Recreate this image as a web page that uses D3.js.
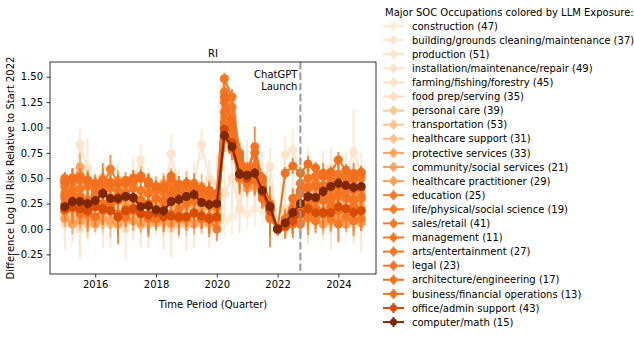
<!DOCTYPE html>
<html>
<head>
<meta charset="utf-8">
<script src="https://cdn.jsdelivr.net/npm/d3@7"></script>
<style>
  body { margin: 0; background: #fff; }
  text { font-family: "DejaVu Sans", sans-serif; }
</style>
</head>
<body>
<div id="chart"></div>
<script>
// quarters 2015Q1 .. 2024Q4
var quarters = ["2015Q1","2015Q2","2015Q3","2015Q4","2016Q1","2016Q2","2016Q3","2016Q4",
  "2017Q1","2017Q2","2017Q3","2017Q4","2018Q1","2018Q2","2018Q3","2018Q4",
  "2019Q1","2019Q2","2019Q3","2019Q4","2020Q1","2020Q2","2020Q3","2020Q4",
  "2021Q1","2021Q2","2021Q3","2021Q4","2022Q1","2022Q2","2022Q3","2022Q4",
  "2023Q1","2023Q2","2023Q3","2023Q4","2024Q1","2024Q2","2024Q3","2024Q4"];

var occupations = ["construction (47)", "building/grounds cleaning/maintenance (37)", "production (51)",
  "installation/maintenance/repair (49)", "farming/fishing/forestry (45)", "food prep/serving (35)",
  "personal care (39)", "transportation (53)", "healthcare support (31)", "protective services (33)",
  "community/social services (21)", "healthcare practitioner (29)", "education (25)",
  "life/physical/social science (19)", "sales/retail (41)", "management (11)", "arts/entertainment (27)",
  "legal (23)", "architecture/engineering (17)", "business/financial operations (13)",
  "office/admin support (43)", "computer/math (15)"];

// LLM exposure, rescaled for the colour map
var exposure = [0.08, 0.13, 0.14, 0.15, 0.15, 0.16, 0.28, 0.29, 0.3, 0.41, 0.42, 0.43,
  0.56, 0.57, 0.57, 0.58, 0.58, 0.59, 0.59, 0.6, 0.74, 1.0];

var construction = [0.10,0.08,0.05,0.12,0.10,0.07,0.15,0.05,0.10,0.08,0.03,0.06,0.12,0.05,0.08,0.10,0.03,0.07,0.05,0.10,0.35,0.07,0.12,0.18,0.15,0.20,0.18,0.15,0,0.05,0.10,0.08,0.03,0.10,0.05,0.08,0.12,0.06,0.05,0.07];
var constructionErr = [0.15,0.12,0.30,0.18,0.12,0.15,0.20,0.14,0.12,0.15,0.18,0.12,0.14,0.16,0.22,0.15,0.18,0.14,0.12,0.15,0.20,0.15,0.18,0.16,0.14,0.18,0.15,0.16,0.05,0.14,0.16,0.15,0.18,0.14,0.16,0.15,0.18,0.14,0.15,0.16];
var building = [0.20,0.25,0.83,0.60,0.35,0.30,0.45,0.40,0.30,0.50,0.68,0.40,0.35,0.30,0.74,0.40,0.30,0.45,0.83,0.50,0.30,0.95,0.85,0.55,0.45,0.50,0.45,0.62,0,0.73,0.78,0.55,0.60,0.45,0.55,0.60,0.50,0.55,0.76,0.55];
var buildingErr = [0.20,0.18,0.15,0.30,0.22,0.18,0.20,0.25,0.18,0.22,0.15,0.20,0.18,0.22,0.20,0.18,0.22,0.20,0.15,0.18,0.20,0.15,0.18,0.20,0.22,0.18,0.20,0.18,0.08,0.18,0.20,0.22,0.20,0.18,0.22,0.20,0.18,0.20,0.42,0.20];
var production = [0.30,0.25,0.35,0.30,0.28,0.32,0.25,0.30,0.35,0.28,0.30,0.25,0.32,0.30,0.28,0.35,0.30,0.32,0.28,0.30,0.25,1.20,1.05,0.65,0.50,0.55,0.40,0.20,0,0.10,0.18,0.25,0.30,0.28,0.35,0.30,0.32,0.35,0.30,0.33];
var productionErr = [0.10,0.12,0.10,0.14,0.10,0.12,0.10,0.12,0.10,0.12,0.14,0.10,0.12,0.10,0.12,0.10,0.12,0.10,0.14,0.10,0.12,0.12,0.14,0.10,0.12,0.10,0.12,0.10,0.06,0.10,0.12,0.10,0.12,0.10,0.14,0.12,0.10,0.12,0.10,0.12];
var installation = [0.18,0.15,0.20,0.12,0.15,0.18,0.10,0.15,0.20,0.12,0.15,0.18,0.10,0.14,0.16,0.12,0.18,0.15,0.12,0.15,0.15,0.85,0.75,0.48,0.42,0.45,0.35,0.18,0,0.05,0.12,0.15,0.20,0.18,0.15,0.20,0.22,0.18,0.20,0.18];
var installationErr = [0.12,0.14,0.12,0.16,0.12,0.14,0.16,0.12,0.14,0.12,0.16,0.14,0.12,0.14,0.12,0.16,0.12,0.14,0.12,0.14,0.12,0.14,0.12,0.14,0.12,0.14,0.12,0.14,0.06,0.12,0.14,0.12,0.14,0.12,0.14,0.12,0.14,0.12,0.14,0.12];
var farming = [0.05,0.15,0.00,0.10,0.20,0.05,0.10,0.25,0.00,0.15,0.10,0.05,0.20,0.10,0.00,0.15,0.05,0.10,0.20,0.05,0.45,0.35,0.50,0.20,0.60,0.40,0.50,0.30,0,0.20,0.30,0.15,0.10,0.25,0.20,0.05,0.15,0.25,0.10,0.05];
var farmingErr = [0.25,0.28,0.30,0.22,0.26,0.24,0.28,0.22,0.30,0.25,0.28,0.24,0.26,0.30,0.28,0.24,0.26,0.28,0.25,0.24,0.28,0.26,0.30,0.25,0.28,0.24,0.26,0.30,0.10,0.26,0.28,0.30,0.24,0.26,0.28,0.25,0.28,0.26,0.24,0.28];
var foodPrep = [0.25,0.20,0.22,0.18,0.25,0.20,0.22,0.18,0.20,0.25,0.18,0.22,0.20,0.18,0.22,0.25,0.20,0.18,0.22,0.20,0.20,1.40,1.25,0.75,0.60,0.65,0.45,0.25,0,0.08,0.15,0.22,0.25,0.28,0.25,0.30,0.28,0.30,0.25,0.28];
var foodPrepErr = [0.10,0.12,0.10,0.12,0.10,0.12,0.10,0.12,0.10,0.12,0.10,0.12,0.10,0.12,0.10,0.12,0.10,0.12,0.10,0.12,0.10,0.10,0.12,0.10,0.12,0.10,0.12,0.10,0.05,0.10,0.12,0.10,0.12,0.10,0.12,0.10,0.12,0.10,0.12,0.10];
var personalCare = [0.12,0.08,0.10,0.05,0.12,0.08,0.10,0.05,0.08,0.12,0.05,0.08,0.10,0.06,0.08,0.05,0.10,0.08,0.06,0.08,0.10,1.30,1.15,0.70,0.55,0.60,0.40,0.20,0,0.05,0.10,0.12,0.15,0.10,0.12,0.15,0.10,0.12,0.08,0.10];
var personalCareErr = [0.10,0.12,0.10,0.14,0.10,0.12,0.10,0.14,0.10,0.12,0.10,0.14,0.10,0.12,0.10,0.14,0.10,0.12,0.10,0.14,0.10,0.12,0.10,0.14,0.10,0.12,0.10,0.12,0.06,0.10,0.12,0.10,0.14,0.10,0.12,0.10,0.14,0.10,0.12,0.10];
var transportation = [0.40,0.35,0.38,0.30,0.35,0.40,0.32,0.35,0.38,0.30,0.35,0.40,0.33,0.35,0.30,0.38,0.35,0.32,0.36,0.30,0.30,1.05,0.90,0.60,0.50,0.52,0.38,0.18,0,0.08,0.15,0.20,0.25,0.22,0.28,0.25,0.30,0.28,0.25,0.30];
var transportationErr = [0.08,0.10,0.08,0.10,0.08,0.10,0.08,0.10,0.08,0.10,0.08,0.10,0.08,0.10,0.08,0.10,0.08,0.10,0.08,0.10,0.08,0.10,0.08,0.10,0.08,0.10,0.08,0.10,0.05,0.08,0.10,0.08,0.10,0.08,0.10,0.08,0.10,0.08,0.10,0.08];
var healthSupport = [0.15,0.10,0.12,0.08,0.15,0.10,0.05,0.12,0.10,0.08,0.12,0.05,0.10,0.08,0.12,0.10,0.05,0.08,0.10,0.05,0.05,1.15,1.00,0.62,0.48,0.50,0.35,0.15,0,0.03,0.08,0.10,0.15,0.12,0.08,0.10,0.15,0.12,0.10,0.12];
var healthSupportErr = [0.12,0.10,0.14,0.10,0.12,0.10,0.14,0.10,0.12,0.10,0.14,0.10,0.12,0.10,0.14,0.10,0.12,0.10,0.14,0.10,0.12,0.10,0.14,0.10,0.12,0.10,0.14,0.10,0.06,0.12,0.10,0.14,0.10,0.12,0.10,0.14,0.10,0.12,0.10,0.12];
var protective = [0.45,0.48,0.61,0.45,0.42,0.50,0.45,0.48,0.40,0.45,0.50,0.42,0.40,0.45,0.48,0.42,0.45,0.40,0.42,0.38,0.20,1.10,0.95,0.60,0.48,0.55,0.40,0.20,0,0.05,0.15,0.25,0.30,0.35,0.32,0.38,0.40,0.35,0.38,0.35];
var protectiveErr = [0.10,0.12,0.14,0.10,0.12,0.10,0.12,0.10,0.12,0.10,0.12,0.10,0.12,0.10,0.12,0.10,0.12,0.10,0.12,0.10,0.12,0.10,0.12,0.10,0.12,0.10,0.12,0.10,0.05,0.10,0.12,0.10,0.12,0.10,0.12,0.10,0.12,0.10,0.12,0.10];
var community = [0.30,0.25,0.28,0.22,0.30,0.25,0.20,0.28,0.25,0.22,0.30,0.25,0.22,0.20,0.25,0.28,0.22,0.25,0.20,0.22,0.15,1.00,0.85,0.55,0.45,0.48,0.32,0.12,0,0.04,0.10,0.18,0.20,0.22,0.18,0.25,0.22,0.20,0.25,0.22];
var communityErr = [0.12,0.14,0.12,0.16,0.12,0.14,0.12,0.16,0.12,0.14,0.12,0.16,0.12,0.14,0.12,0.16,0.12,0.14,0.12,0.16,0.12,0.14,0.12,0.16,0.12,0.14,0.12,0.16,0.06,0.12,0.14,0.12,0.16,0.12,0.14,0.12,0.16,0.12,0.14,0.12];
var healthPract = [0.10,0.05,0.08,0.12,0.05,0.10,0.08,0.05,0.10,0.08,0.05,0.10,0.06,0.08,0.05,0.10,0.08,0.05,0.10,0.06,0.08,0.95,0.80,0.50,0.40,0.42,0.30,0.12,0,0.02,0.05,0.08,0.10,0.08,0.05,0.08,0.10,0.05,0.08,0.06];
var healthPractErr = [0.08,0.10,0.08,0.10,0.08,0.10,0.08,0.10,0.08,0.10,0.08,0.10,0.08,0.10,0.08,0.10,0.08,0.10,0.08,0.10,0.08,0.10,0.08,0.10,0.08,0.10,0.08,0.10,0.05,0.08,0.10,0.08,0.10,0.08,0.10,0.08,0.10,0.08,0.10,0.08];
var education = [0.50,0.45,0.48,0.47,0.44,0.42,0.59,0.45,0.45,0.50,0.52,0.47,0.42,0.38,0.48,0.40,0.45,0.40,0.35,0.32,0.30,1.35,1.20,0.72,0.58,0.62,0.45,0.22,0,0.06,0.15,0.35,0.42,0.45,0.43,0.48,0.52,0.50,0.48,0.50];
var educationErr = [0.06,0.08,0.06,0.08,0.06,0.08,0.14,0.08,0.06,0.08,0.06,0.08,0.06,0.08,0.06,0.08,0.06,0.08,0.06,0.08,0.06,0.08,0.06,0.08,0.06,0.08,0.06,0.08,0.04,0.06,0.08,0.06,0.08,0.06,0.08,0.06,0.08,0.06,0.08,0.06];
var lifeScience = [0.25,0.20,0.18,0.15,0.22,0.20,0.25,0.12,0.20,0.18,0.15,0.10,0.18,0.12,0.15,0.20,0.10,0.15,0.12,0.10,0.00,1.00,0.88,0.55,0.52,0.60,0.35,0.10,0,0.02,0.10,0.05,0.12,0.08,0.15,0.10,0.05,0.12,0.08,0.10];
var lifeScienceErr = [0.12,0.15,0.12,0.18,0.12,0.15,0.12,0.18,0.12,0.15,0.12,0.18,0.12,0.15,0.12,0.18,0.12,0.15,0.12,0.18,0.12,0.15,0.12,0.18,0.12,0.15,0.12,0.18,0.06,0.12,0.15,0.12,0.18,0.12,0.15,0.12,0.18,0.12,0.15,0.12];
var sales = [0.42,0.38,0.40,0.42,0.38,0.35,0.40,0.38,0.35,0.40,0.38,0.35,0.38,0.36,0.40,0.35,0.38,0.35,0.32,0.30,0.28,1.25,1.10,0.68,0.55,0.60,0.42,0.20,0,0.05,0.12,0.20,0.25,0.28,0.30,0.28,0.32,0.30,0.28,0.30];
var salesErr = [0.05,0.06,0.05,0.06,0.05,0.06,0.05,0.06,0.05,0.06,0.05,0.06,0.05,0.06,0.05,0.06,0.05,0.06,0.05,0.06,0.05,0.06,0.05,0.06,0.05,0.06,0.05,0.06,0.03,0.05,0.06,0.05,0.06,0.05,0.06,0.05,0.06,0.05,0.06,0.05];
var management = [0.35,0.30,0.32,0.28,0.30,0.25,0.30,0.28,0.32,0.30,0.28,0.25,0.30,0.26,0.28,0.30,0.25,0.28,0.30,0.25,0.22,1.05,0.92,0.60,0.50,0.55,0.38,0.18,0,0.04,0.12,0.22,0.28,0.30,0.28,0.32,0.35,0.33,0.30,0.32];
var managementErr = [0.06,0.08,0.06,0.08,0.06,0.08,0.06,0.08,0.06,0.08,0.06,0.08,0.06,0.08,0.06,0.08,0.06,0.08,0.06,0.08,0.06,0.08,0.06,0.08,0.06,0.08,0.06,0.08,0.04,0.06,0.08,0.06,0.08,0.06,0.08,0.06,0.08,0.06,0.08,0.06];
var arts = [0.48,0.50,0.52,0.48,0.45,0.44,0.46,0.45,0.48,0.45,0.50,0.44,0.40,0.42,0.45,0.38,0.42,0.45,0.38,0.35,0.30,1.48,1.30,0.75,0.55,0.81,0.48,0.22,0,0.08,0.20,0.45,0.50,0.52,0.55,0.50,0.54,0.52,0.55,0.54];
var artsErr = [0.08,0.10,0.08,0.10,0.08,0.10,0.08,0.10,0.08,0.10,0.08,0.10,0.08,0.10,0.08,0.10,0.08,0.10,0.08,0.10,0.08,0.06,0.08,0.10,0.08,0.20,0.08,0.10,0.04,0.08,0.10,0.08,0.10,0.08,0.10,0.08,0.10,0.08,0.10,0.08];
var legal = [0.18,0.22,0.15,0.20,0.12,0.18,0.22,0.15,0.12,0.18,0.15,0.12,0.10,0.15,0.12,0.10,0.12,0.15,0.10,0.12,0.10,0.90,0.78,0.50,0.45,0.48,0.30,0.12,0,0.10,0.05,0.15,0.18,0.20,0.15,0.22,0.18,0.20,0.22,0.18];
var legalErr = [0.10,0.14,0.10,0.16,0.10,0.14,0.10,0.30,0.10,0.14,0.10,0.16,0.10,0.14,0.10,0.16,0.10,0.14,0.10,0.16,0.10,0.14,0.10,0.16,0.10,0.14,0.10,0.30,0.06,0.10,0.14,0.10,0.16,0.10,0.14,0.10,0.16,0.10,0.14,0.10];
var architecture = [0.32,0.35,0.30,0.28,0.35,0.40,0.30,0.32,0.35,0.30,0.28,0.25,0.30,0.28,0.35,0.30,0.28,0.32,0.30,0.25,0.25,1.15,1.00,0.65,0.55,0.60,0.40,0.20,0,0.08,0.30,0.38,0.40,0.42,0.38,0.40,0.42,0.40,0.38,0.40];
var architectureErr = [0.08,0.10,0.08,0.10,0.08,0.25,0.08,0.10,0.08,0.10,0.08,0.10,0.08,0.10,0.08,0.10,0.08,0.10,0.08,0.10,0.08,0.10,0.08,0.10,0.08,0.10,0.08,0.10,0.05,0.08,0.10,0.08,0.10,0.08,0.10,0.08,0.10,0.08,0.10,0.08];
var business = [0.46,0.50,0.50,0.48,0.45,0.48,0.45,0.45,0.46,0.50,0.52,0.46,0.42,0.40,0.52,0.44,0.45,0.42,0.40,0.38,0.35,1.30,1.05,0.72,0.60,0.75,0.50,0.25,0,0.55,0.62,0.55,0.64,0.60,0.52,0.56,0.68,0.58,0.50,0.56];
var businessErr = [0.06,0.08,0.06,0.08,0.06,0.08,0.06,0.08,0.06,0.08,0.06,0.08,0.06,0.08,0.06,0.08,0.06,0.08,0.06,0.08,0.06,0.08,0.06,0.08,0.06,0.08,0.06,0.08,0.04,0.06,0.08,0.06,0.08,0.06,0.08,0.06,0.08,0.06,0.08,0.06];
var officeAdmin = [0.20,0.22,0.20,0.18,0.22,0.20,0.18,0.12,0.18,0.20,0.15,0.14,0.16,0.12,0.13,0.12,0.12,0.16,0.13,0.10,0.12,0.98,0.85,0.55,0.50,0.55,0.36,0.18,0,0.03,0.08,0.15,0.20,0.16,0.16,0.16,0.22,0.20,0.16,0.18];
var officeAdminErr = [0.04,0.05,0.04,0.05,0.04,0.05,0.04,0.05,0.04,0.05,0.04,0.05,0.04,0.05,0.04,0.05,0.04,0.05,0.04,0.05,0.04,0.05,0.04,0.05,0.04,0.05,0.04,0.05,0.03,0.04,0.05,0.04,0.05,0.04,0.05,0.04,0.05,0.04,0.05,0.04];
var computerMath = [0.22,0.27,0.27,0.25,0.28,0.35,0.30,0.30,0.32,0.31,0.22,0.23,0.19,0.18,0.27,0.29,0.32,0.34,0.26,0.24,0.25,0.92,0.81,0.54,0.53,0.55,0.38,0.22,0,0.06,0.16,0.25,0.32,0.31,0.37,0.42,0.45,0.43,0.41,0.42];
var computerMathErr = [0.04,0.05,0.04,0.05,0.04,0.05,0.04,0.05,0.04,0.05,0.04,0.05,0.04,0.05,0.04,0.05,0.04,0.05,0.04,0.05,0.04,0.05,0.04,0.05,0.04,0.05,0.04,0.05,0.03,0.04,0.05,0.04,0.05,0.04,0.05,0.04,0.05,0.04,0.05,0.04];

var yTicks = [-0.25, 0, 0.25, 0.5, 0.75, 1.0, 1.25, 1.5];
var xTicks = [2016, 2018, 2020, 2022, 2024];
var chatgptLaunch = 2022.75;

var values = [construction, building, production, installation, farming, foodPrep, personalCare,
  transportation, healthSupport, protective, community, healthPract, education, lifeScience, sales,
  management, arts, legal, architecture, business, officeAdmin, computerMath];
var errors = [constructionErr, buildingErr, productionErr, installationErr, farmingErr, foodPrepErr,
  personalCareErr, transportationErr, healthSupportErr, protectiveErr, communityErr, healthPractErr,
  educationErr, lifeScienceErr, salesErr, managementErr, artsErr, legalErr, architectureErr,
  businessErr, officeAdminErr, computerMathErr];

var qx = quarters.map(function (q) { return +q.slice(0, 4) + (+q.slice(5) - 1) / 4; });

var series = occupations.map(function (name, i) {
  return {
    name: name,
    color: d3.interpolateOranges(exposure[i]),
    points: qx.map(function (x, j) { return {x: x, y: values[i][j], e: errors[i][j]}; })
  };
});

var W = 634, H = 337;
var margin = {top: 62, right: 258, bottom: 63, left: 50};
var width = W - margin.left - margin.right,
    height = H - margin.top - margin.bottom;

var svg = d3.select("#chart").append("svg")
    .attr("width", W)
    .attr("height", H);

var g = svg.append("g")
    .attr("transform", "translate(" + margin.left + "," + margin.top + ")");

var x = d3.scaleLinear()
    .domain([2014.5125, 2025.2375])
    .range([0, width]);

var y = d3.scaleLinear()
    .domain([-0.443, 1.645])
    .range([height, 0]);

g.append("defs").append("clipPath").attr("id", "clip")
  .append("rect").attr("width", width).attr("height", height);

var plot = g.append("g").attr("clip-path", "url(#clip)");

var line = d3.line()
    .x(function (d) { return x(d.x); })
    .y(function (d) { return y(d.y); });

series.forEach(function (s) {
  var sg = plot.append("g");
  sg.selectAll(".err")
    .data(s.points)
    .enter().append("line")
    .attr("x1", function (d) { return x(d.x); })
    .attr("x2", function (d) { return x(d.x); })
    .attr("y1", function (d) { return y(d.y - d.e); })
    .attr("y2", function (d) { return y(d.y + d.e); })
    .attr("stroke", s.color)
    .attr("stroke-opacity", 0.8)
    .attr("stroke-width", 2);
  sg.append("path")
    .datum(s.points)
    .attr("d", line)
    .attr("fill", "none")
    .attr("stroke", s.color)
    .attr("stroke-width", 2);
  sg.selectAll(".dot")
    .data(s.points)
    .enter().append("circle")
    .attr("cx", function (d) { return x(d.x); })
    .attr("cy", function (d) { return y(d.y); })
    .attr("r", 4.5)
    .attr("fill", s.color);
});

// ChatGPT launch marker
g.append("line")
    .attr("x1", x(chatgptLaunch)).attr("x2", x(chatgptLaunch))
    .attr("y1", 0).attr("y2", height)
    .attr("stroke", "#999")
    .attr("stroke-width", 2)
    .attr("stroke-dasharray", "7.4,3.2");

var note = g.append("text")
    .attr("text-anchor", "end")
    .style("font-size", "10px")
    .attr("fill", "#000");
note.append("tspan").attr("x", x(chatgptLaunch) - 3).attr("y", 16).text("ChatGPT");
note.append("tspan").attr("x", x(chatgptLaunch) - 3).attr("y", 27.5).text("Launch");

// axes
var xAxis = g.append("g")
    .attr("transform", "translate(0," + height + ")")
    .call(d3.axisBottom(x).tickValues(xTicks).tickFormat(d3.format("d")).tickSize(3.5).tickPadding(3.5));

var yAxis = g.append("g")
    .call(d3.axisLeft(y).tickValues(yTicks)
      .tickFormat(function (d) { return d3.format(".2f")(d).replace("-", "\u2212"); })
      .tickSize(3.5).tickPadding(3.5));

[xAxis, yAxis].forEach(function (a) {
  a.selectAll("text").style("font-size", "10px").style("font-family", "DejaVu Sans").attr("fill", "#000");
  a.selectAll("line").attr("stroke", "#000").attr("stroke-width", 0.8);
  a.select(".domain").remove();
});

g.append("rect")
    .attr("width", width).attr("height", height)
    .attr("fill", "none").attr("stroke", "#000").attr("stroke-width", 0.8);

g.append("text")
    .attr("x", width / 2).attr("y", -5)
    .attr("text-anchor", "middle")
    .style("font-size", "10px")
    .text("RI");

g.append("text")
    .attr("x", width / 2).attr("y", height + 34)
    .attr("text-anchor", "middle")
    .style("font-size", "10px")
    .text("Time Period (Quarter)");

svg.append("text")
    .attr("transform", "translate(14," + (margin.top + height / 2) + ") rotate(-90)")
    .attr("text-anchor", "middle")
    .style("font-size", "10px")
    .text("Difference Log UI Risk Relative to Start 2022");

// legend
var legend = svg.append("g").attr("transform", "translate(384,0)");
legend.append("text")
    .attr("x", 1).attr("y", 15.5)
    .style("font-size", "10px")
    .text("Major SOC Occupations colored by LLM Exposure:");

var item = legend.selectAll(".item")
    .data(series)
    .enter().append("g")
    .attr("class", "item")
    .attr("transform", function (d, i) { return "translate(0," + (26 + i * 14.1) + ")"; });

item.append("line")
    .attr("x1", -1).attr("x2", 20)
    .attr("stroke", function (d) { return d.color; })
    .attr("stroke-width", 2);
item.append("line")
    .attr("x1", 9.5).attr("x2", 9.5).attr("y1", -5).attr("y2", 5)
    .attr("stroke", function (d) { return d.color; })
    .attr("stroke-width", 2);
item.append("circle")
    .attr("cx", 9.5).attr("r", 3.5)
    .attr("fill", function (d) { return d.color; });
item.append("text")
    .attr("x", 28).attr("y", 3.6)
    .style("font-size", "10px")
    .text(function (d) { return d.name; });
</script>
</body>
</html>
